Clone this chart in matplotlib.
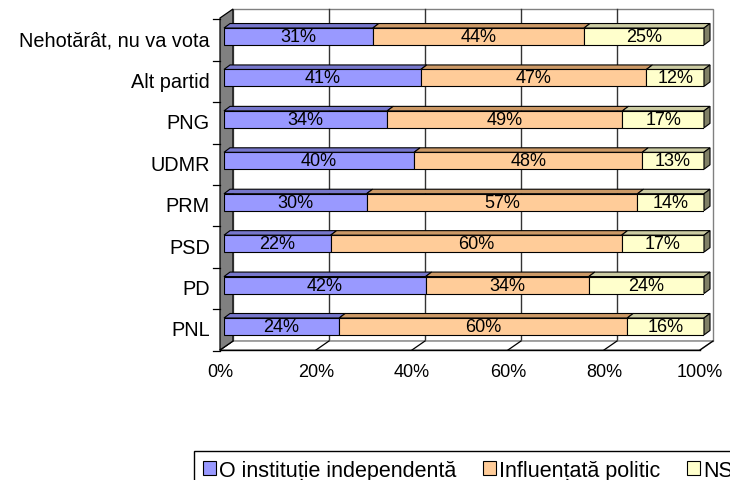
import matplotlib
matplotlib.use("Agg")
import matplotlib.pyplot as plt
import matplotlib.transforms as mtransforms
from matplotlib.patches import Polygon, Patch
import numpy as np

plt.rcParams['font.family'] = ['Liberation Sans', 'DejaVu Sans']

categories = ['PNL', 'PD', 'PSD', 'PRM', 'UDMR', 'PNG', 'Alt partid',
              'Nehotărât, nu va vota']
independent = [24, 42, 22, 30, 40, 34, 41, 31]
influenced = [60, 34, 60, 57, 48, 49, 47, 44]
dont_know = [16, 24, 17, 14, 13, 17, 12, 25]
series_names = ['O instituție independentă', 'Influențată politic', 'NS/NR']
xticks = [0, 20, 40, 60, 80, 100]

front_colors = ['#9999FF', '#FFCC99', '#FFFFCC']
top_colors = ['#7777CC', '#CC9966', '#CCCCA3']
side_color = '#808066'

W, H = 730, 481
fig = plt.figure(figsize=(W / 100, H / 100), dpi=100)
# bar front faces: 0% -> x=224px, 100% -> x=704px ; centers 327.5 .. 37.5 px
ax = fig.add_axes([224 / W, (H - 348.2) / H, 480 / W, (348.2 - 16.8) / H])
ax.set_xlim(0, 100)
ax.set_ylim(-0.5, 7.5)
ax.axis('off')

# pixel transform (origin top-left of the image)
PX = mtransforms.Affine2D().scale(1 / W, -1 / H).translate(0, 1) + fig.transFigure


def xpx(v, base):
    return base + 4.8 * v


# back wall
ax.add_patch(Polygon([(233, 10), (713, 10), (713, 342), (233, 342)], closed=True,
                     fc='white', ec='#808080', lw=1, transform=PX, clip_on=False, zorder=0))
for v in xticks[1:-1]:
    ax.plot([xpx(v, 233)] * 2, [10, 342], color='#333333', lw=1,
            transform=PX, clip_on=False, zorder=0.5)
# floor
ax.add_patch(Polygon([(220, 351), (700, 351), (713, 342), (233, 342)], closed=True,
                     fc='white', ec='#808080', lw=1, transform=PX, clip_on=False, zorder=0.6))
for v in xticks:
    ax.plot([xpx(v, 220), xpx(v, 233)], [351, 342], color='black', lw=0.9,
            transform=PX, clip_on=False, zorder=0.7)
ax.plot([220, 700], [351, 351], color='black', lw=1, transform=PX,
        clip_on=False, zorder=0.7)
# left wall
ax.add_patch(Polygon([(220, 19), (233, 10), (233, 342), (220, 351)], closed=True,
                     fc='#808080', ec='black', lw=0.9, transform=PX, clip_on=False, zorder=1))

# category ticks and labels on the front plane
front = mtransforms.offset_copy(ax.transData, fig=fig, x=-4, y=-3.5, units='dots')
tick_tr = mtransforms.blended_transform_factory(PX, front)
for b in np.arange(len(categories) + 1) - 0.5:
    ax.plot([213, 220], [b, b], color='black', lw=0.9, transform=tick_tr,
            clip_on=False, zorder=1)
for i, c in enumerate(categories):
    ax.text(-2.1, i, c, ha='right', va='center', fontsize=14.3,
            transform=front, clip_on=False)

# x tick labels
xlab_tr = mtransforms.blended_transform_factory(front, PX)
for v in xticks:
    ax.text(v, 373, f'{v}%', ha='center', va='center', fontsize=13,
            transform=xlab_tr, clip_on=False)

# bars (100% stacked)
vals = np.array([independent, influenced, dont_know], dtype=float)
vals = vals / vals.sum(axis=0) * 100
raw = [independent, influenced, dont_know]
h = 0.41
dx, dy = 6 / 4.8, 4.5 / 41.43
y = np.arange(len(categories))
left = np.zeros(len(categories))
for s in range(3):
    ax.barh(y, vals[s], left=left, height=h, color=front_colors[s],
            edgecolor='black', lw=0.8, zorder=3)
    for i in range(len(categories)):
        l, w, c = left[i], vals[s][i], y[i]
        ax.add_patch(Polygon([(l, c + h / 2), (l + w, c + h / 2),
                              (l + w + dx, c + h / 2 + dy), (l + dx, c + h / 2 + dy)],
                             closed=True, fc=top_colors[s], ec='black', lw=0.8,
                             clip_on=False, zorder=3))
        ax.text(l + w / 2, c, f'{raw[s][i]}%', ha='center', va='center',
                fontsize=13, zorder=4)
    left = left + vals[s]
for i in range(len(categories)):
    c = y[i]
    ax.add_patch(Polygon([(100, c - h / 2), (100, c + h / 2),
                          (100 + dx, c + h / 2 + dy), (100 + dx, c - h / 2 + dy)],
                         closed=True, fc=side_color, ec='black', lw=0.8,
                         clip_on=False, zorder=3))

handles = [Patch(fc=front_colors[s], ec='black', lw=0.8) for s in range(3)]
leg = fig.legend(handles, series_names, loc='upper left',
                 bbox_to_anchor=(194 / W, 1 - 452 / H), ncol=3, frameon=True,
                 fancybox=False, edgecolor='black', framealpha=1, borderaxespad=0,
                 handlelength=0.6, handleheight=0.6, handletextpad=0.15,
                 columnspacing=1.25, fontsize=15.5, borderpad=0.4)
leg.get_frame().set_linewidth(1)

fig.savefig('out.png', dpi=100)
